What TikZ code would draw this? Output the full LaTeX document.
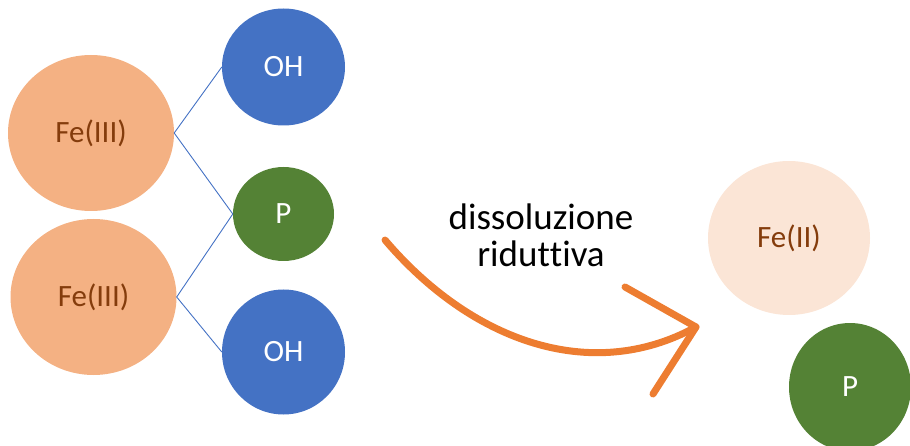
\documentclass[tikz,border=0pt]{standalone}
\usepackage{fontspec}
\setmainfont{Carlito}[Ligatures=CommonOff]
\usetikzlibrary{shapes.geometric}
\definecolor{feorange}{HTML}{F4B183}
\definecolor{fetext}{HTML}{843C0C}
\definecolor{ohblue}{HTML}{4472C4}
\definecolor{pgreen}{HTML}{548235}
\definecolor{fetwo}{HTML}{FBE5D6}
\definecolor{arroworange}{HTML}{ED7D31}
\tikzset{
  ball/.style={ellipse, inner sep=0pt, draw=none, font=\fontsize{31}{36}\selectfont},
  fethree/.style={ball, fill=feorange, text=fetext, minimum width=166pt, minimum height=156pt},
  ohball/.style={ball, fill=ohblue, text=white, minimum width=123pt, minimum height=120pt},
  pball/.style={ball, fill=pgreen, text=white},
  bond/.style={draw=ohblue, line width=0.9pt},
  bigarrow/.style={draw=arroworange, line width=7pt, line cap=round, line join=round},
}
\begin{document}
\begin{tikzpicture}[x=1pt,y=-1pt]
\useasboundingbox (0,0) rectangle (910,446);
\node[fethree] (feA) at (91,133) {Fe(III)};
\node[fethree] (feB) at (93.5,297) {Fe(III)};
\node[ohball, minimum height=117pt] (ohA) at (283.5,67) {OH};
\node[pball, minimum width=101pt, minimum height=94pt] (pA) at (283.5,214) {P};
\node[ohball, minimum height=125pt] (ohB) at (283.5,352) {OH};
\draw[bond] (ohA.west) -- (feA.east) -- (pA.west) -- (feB.east) -- (ohB.west);
\node[ball, fill=fetwo, text=fetext, minimum width=162pt, minimum height=154pt] (feC) at (789,238) {Fe(II)};
\node[pball, minimum width=122pt, minimum height=128pt] (pB) at (850,387) {P};
\node[font=\fontsize{37}{41}\selectfont, align=center] (lbl) at (541,235) {dissoluzione\\[-4pt]ridut\kern0pt tiva};
\coordinate (aS) at (385,240);
\coordinate (aT) at (696,327);
\coordinate (aU) at (625,287);
\coordinate (aD) at (653,394);
\draw[bigarrow] (aS) .. controls (470,340) and (590,385) .. (aT);
\draw[bigarrow] (aU) -- (aT) -- (aD);
\end{tikzpicture}
\end{document}
